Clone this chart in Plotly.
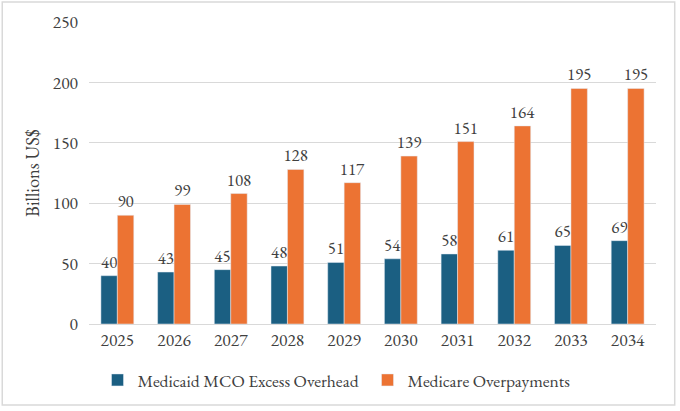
import plotly.graph_objects as go

anos = ["2025", "2026", "2027", "2028", "2029", "2030", "2031", "2032", "2033", "2034"]
medicaid_mco = [40, 43, 45, 48, 51, 54, 58, 61, 65, 69]
medicare_over = [90, 99, 108, 128, 117, 139, 151, 164, 195, 195]

fonte = "Garamond, 'EB Garamond', 'Liberation Serif', serif"
cinza = "#404040"

fig = go.Figure()
fig.add_trace(go.Bar(
    x=anos, y=medicaid_mco, name="Medicaid MCO Excess Overhead",
    marker_color="#1B5F82", text=medicaid_mco, textposition="outside",
    textfont=dict(size=17, color=cinza), cliponaxis=False, constraintext="none",
))
fig.add_trace(go.Bar(
    x=anos, y=medicare_over, name="Medicare Overpayments",
    marker_color="#EC7333", text=medicare_over, textposition="outside",
    textfont=dict(size=17, color=cinza), cliponaxis=False, constraintext="none",
))

fig.update_layout(
    width=680, height=411,
    margin=dict(l=89, r=24, t=22, b=87, autoexpand=False),
    paper_bgcolor="white", plot_bgcolor="white",
    font=dict(family=fonte, size=17, color=cinza),
    barmode="group", bargap=0.42, bargroupgap=0,
    showlegend=True,
    legend=dict(
        orientation="h", x=0.015, xanchor="left", y=-0.126, yanchor="top",
        entrywidth=225, entrywidthmode="pixels", bgcolor="rgba(0,0,0,0)",
        font=dict(size=17.5, color=cinza), itemwidth=30,
    ),
    # moldura cinza em volta do grafico
    shapes=[dict(
        type="rect", xref="paper", yref="paper",
        x0=-0.153, x1=1.033, y0=-0.268, y1=1.066,
        line=dict(color="#D9D9D9", width=1.5),
    )],
)
fig.update_xaxes(showline=True, linecolor="#D9D9D9", ticks="", tickfont=dict(size=17.5))
fig.update_yaxes(
    range=[0, 250], dtick=50, gridcolor="#D9D9D9", zeroline=False, automargin=False,
    ticklabelstandoff=10,
    title=dict(text="Billions US$", font=dict(size=18.5), standoff=8),
    tickfont=dict(size=17.5),
)

fig.write_html("out.html", config={"displayModeBar": False},
               post_script="document.body.style.margin='0';")
